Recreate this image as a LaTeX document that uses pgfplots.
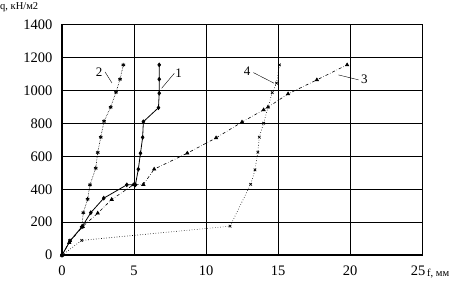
\documentclass[border=0pt]{standalone}
\usepackage{fontspec}
\setmainfont{Liberation Serif}
\usepackage{pgfplots}
\pgfplotsset{compat=1.18}
\begin{document}
\begin{tikzpicture}
\begin{axis}[
  scale only axis, width=360pt, height=230.7pt,
  at={(0pt,0pt)}, anchor=south west,
  xmin=0, xmax=25, ymin=0, ymax=1400,
  xtick={0,5,10,15,20,25}, ytick={0,200,400,600,800,1000,1200,1400},
  xticklabels={0,5,10,15,20,{\hspace*{-8pt}25}},
  grid=major, major grid style={black, line width=0.7pt},
  extra y ticks={600,1200}, extra y tick labels={},
  extra x ticks={5}, extra x tick labels={},
  extra tick style={grid style={black,line width=1.5pt}},
  major tick length=0pt,
  axis line style={black, line width=0.6pt},
  /pgf/number format/assume math mode=true,
  /pgf/number format/set thousands separator={},
  ticklabel style={font=\fontsize{14.5}{16}\selectfont},
  yticklabel style={xshift=-6pt},
  xticklabel style={yshift=-7pt},
  clip=false,
]
\draw[line width=1.5pt] (axis cs:0,0) -- (axis cs:25,0);
\draw[line width=1.5pt] (axis cs:0,0) -- (axis cs:0,1400);
% curve 1
\addplot[black, line width=0.8pt, mark=diamond*, mark size=1.8pt] coordinates {
(0,0)(0.55,85)(1.4,174)(2.0,258)(2.9,346)(4.5,427)(5.1,427)(5.3,522)(5.45,619)(5.6,715)(5.65,810)(6.7,895)(6.75,983)(6.75,1068)(6.75,1155)};
% curve 2
\addplot[black, densely dotted, line width=0.6pt, mark=asterisk, mark size=2pt, mark options={solid, line width=0.8pt}] coordinates {
(0,0)(0.56,89)(1.37,170)(1.48,258)(1.78,340)(1.94,427)(2.34,528)(2.48,623)(2.69,716)(2.92,813)(3.38,898)(3.75,989)(4.03,1068)(4.26,1155)};
% curve 3
\addplot[black, dash dot, line width=0.6pt, mark=triangle*, mark size=1.9pt, mark options={solid}] coordinates {
(0,0)(0.5,77)(1.44,174)(2.48,255)(3.45,338)(4.95,427)(5.65,429)(6.4,522)(8.7,619)(10.7,712)(12.5,808)(14.0,882)(14.3,898)(15.7,979)(17.7,1064)(19.8,1155)};
% curve 4
\addplot[black, dotted, line width=0.6pt, mark=x, mark size=1.8pt, mark options={solid, line width=0.7pt}] coordinates {
(0,0)(1.37,90)(11.67,176)(13.1,430)(13.4,518)(13.6,625)(13.7,716)(14.0,801)(14.6,987)(14.9,1044)(15.1,1155)};
% labels
\node[font=\fontsize{13}{14}\selectfont] at (axis cs:2.57,1112) {2};
\draw[black, line width=0.4pt] (axis cs:2.99,1112) -- (axis cs:3.47,1045);
\node[font=\fontsize{13}{14}\selectfont] at (axis cs:8.1,1106) {1};
\draw[black, line width=0.4pt] (axis cs:7.8,1104) -- (axis cs:6.92,1013);
\node[font=\fontsize{13}{14}\selectfont] at (axis cs:12.85,1118) {4};
\draw[black, line width=0.4pt] (axis cs:13.29,1108) -- (axis cs:14.72,1044);
\node[font=\fontsize{13}{14}\selectfont] at (axis cs:21.0,1070) {3};
\draw[black, line width=0.4pt] (axis cs:19.2,1094) -- (axis cs:20.6,1064);
\node[anchor=base west, font=\fontsize{10.5}{12}\selectfont, inner sep=0pt] at (axis cs:25.35,-130) {f, мм};
\end{axis}
\node[anchor=base west, font=\fontsize{10.5}{12}\selectfont, inner sep=0pt] at (-62pt,245.5pt) {q, кН/м2};
\pgfresetboundingbox
\path[use as bounding box] (-62pt,-28.7pt) rectangle (403pt,255.2pt);
\end{tikzpicture}
\end{document}
